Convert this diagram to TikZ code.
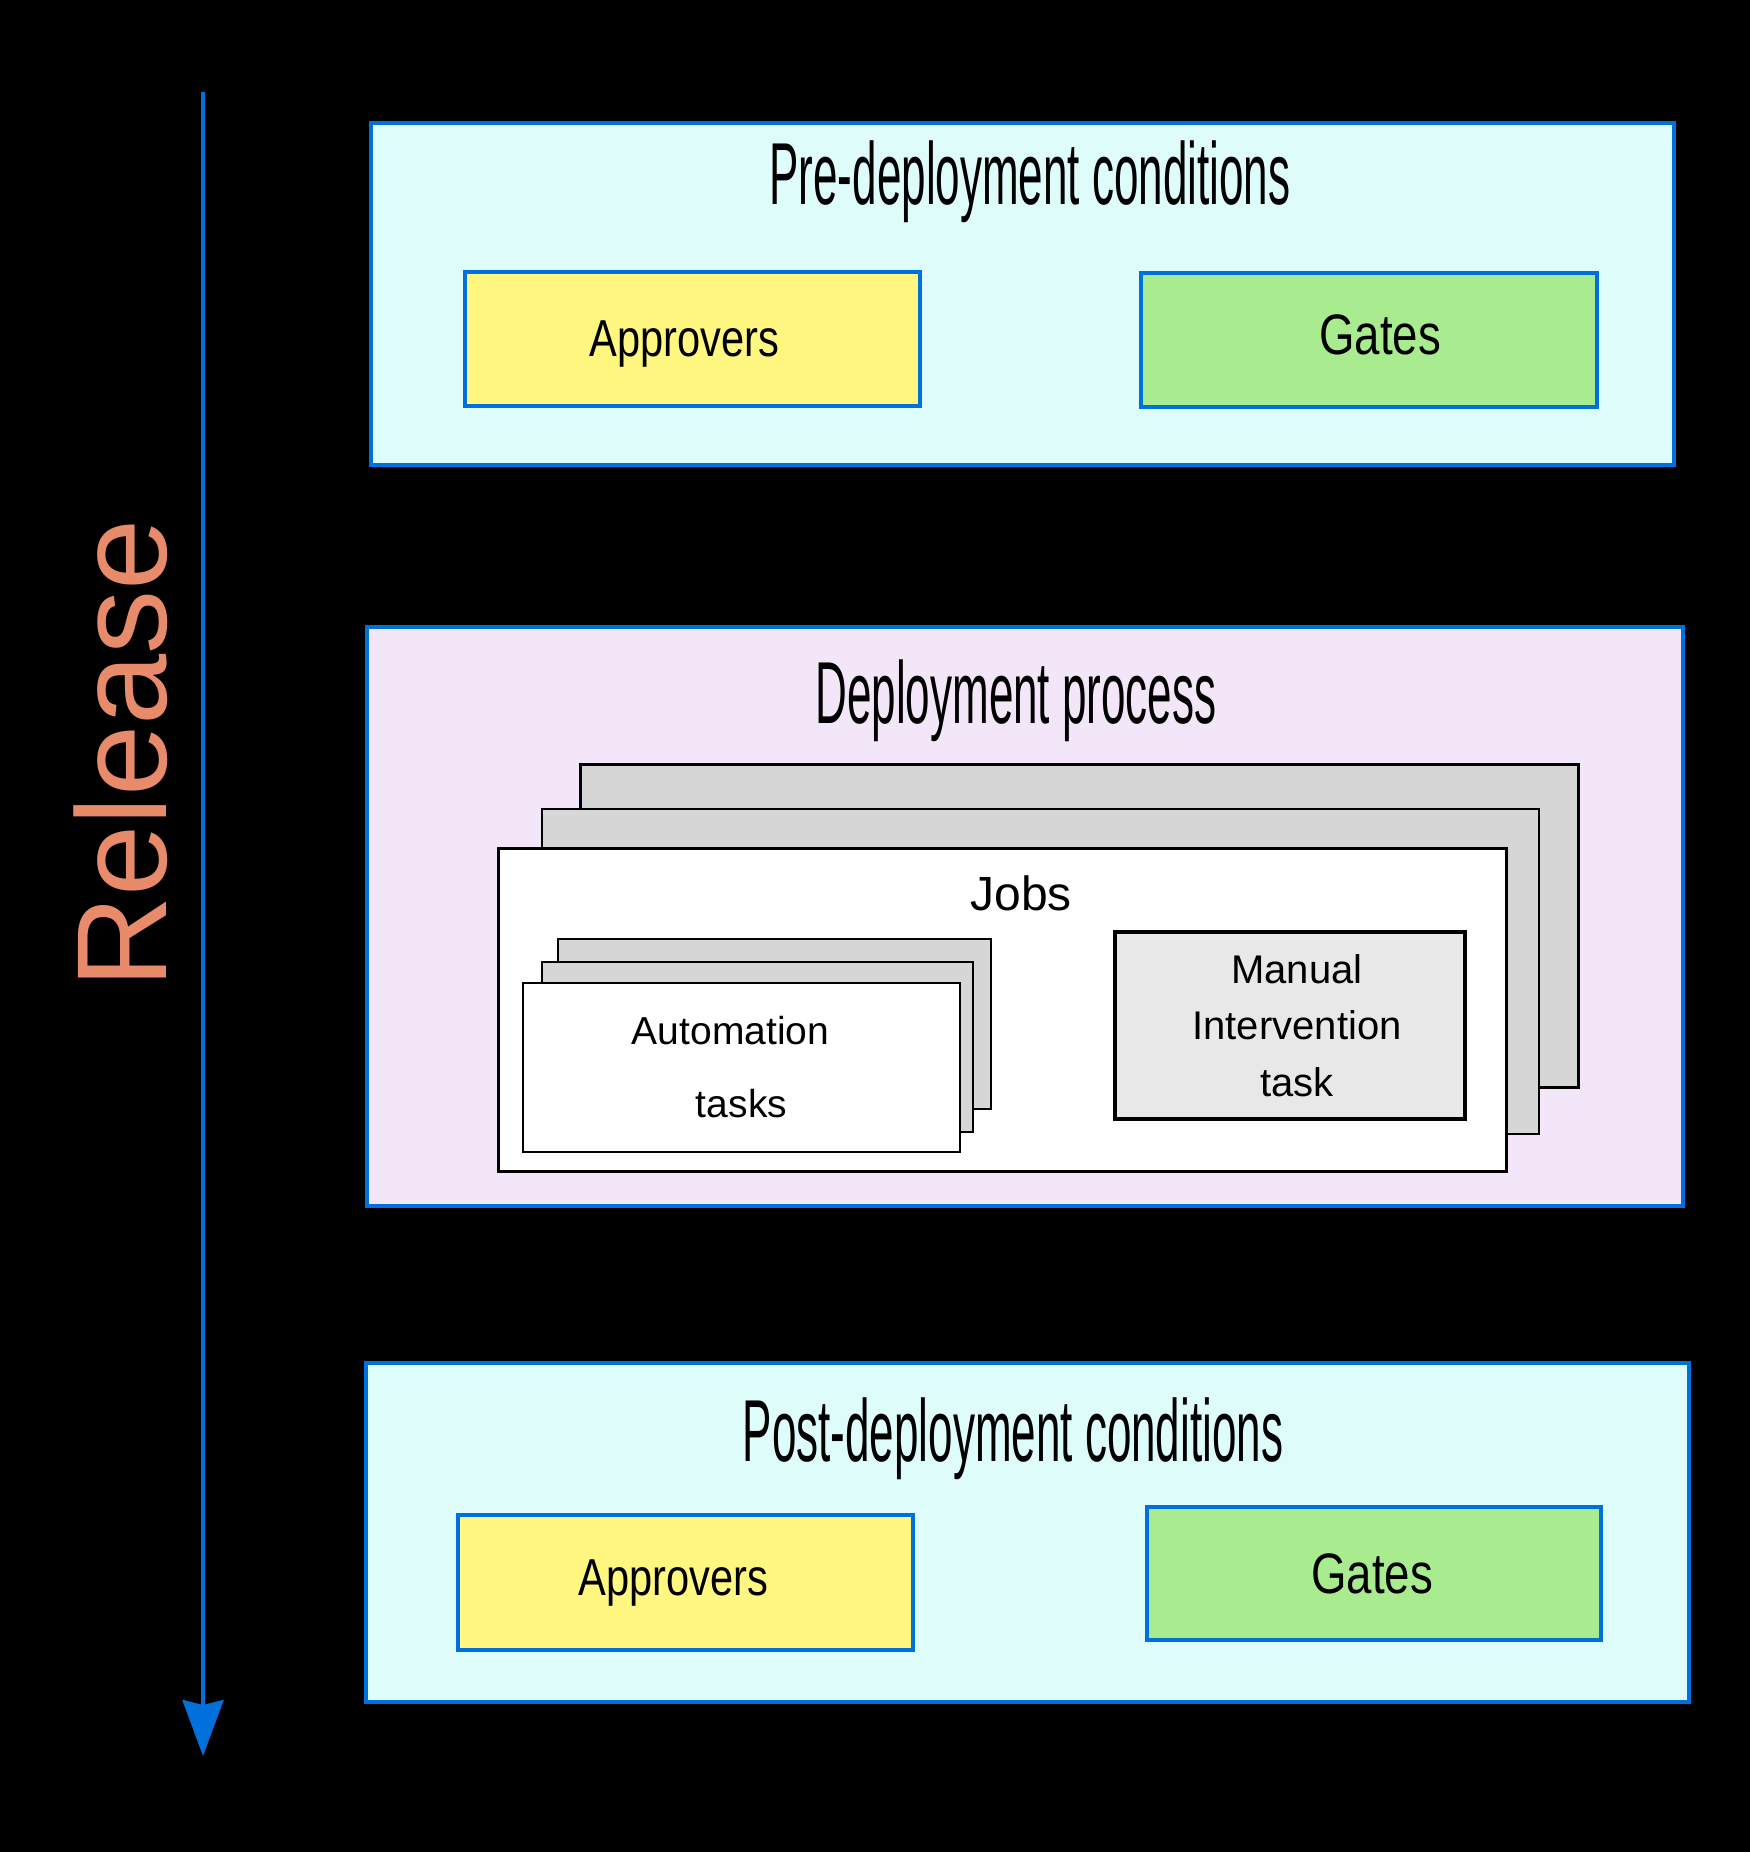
\documentclass[tikz,border=0pt]{standalone}
\usepackage{fontspec}
\setmainfont{Liberation Sans}
\newfontfamily\narrowfont[FakeStretch=0.5]{Liberation Sans}
\newfontfamily\semifont[FakeStretch=0.8]{Liberation Sans}
\usetikzlibrary{arrows.meta}
\usetikzlibrary{positioning}
\definecolor{lineblue}{RGB}{0,112,221}
\definecolor{paleCyan}{RGB}{222,252,250}
\definecolor{paleLilac}{RGB}{243,230,248}
\definecolor{approverYellow}{RGB}{255,247,128}
\definecolor{gateGreen}{RGB}{169,235,143}
\definecolor{cardGray}{RGB}{214,214,214}
\definecolor{manualGray}{RGB}{232,232,232}
\definecolor{releaseOrange}{RGB}{231,139,106}
\tikzstyle{stage} = [rectangle, draw=lineblue, line width=4pt, fill=paleCyan, inner sep=0pt]
\tikzstyle{condition} = [rectangle, draw=lineblue, line width=3.5pt, inner sep=0pt]
\tikzstyle{approverText} = [inner sep=0pt, font=\semifont\fontsize{52}{60}\selectfont]
\tikzstyle{gateText} = [inner sep=0pt, font=\semifont\fontsize{57}{60}\selectfont]
\tikzstyle{card} = [rectangle, draw=black, fill=cardGray, inner sep=0pt]
\tikzstyle{title} = [anchor=base, inner sep=0pt, font=\narrowfont\fontsize{88}{100}\selectfont]
\tikzstyle{arrow} = [line width=4pt, draw=lineblue, -{Stealth[length=56pt, width=41pt, inset=5pt]}]

\begin{document}
\begin{tikzpicture}[x=1pt, y=-1pt]
        \fill [black] (0,0) rectangle (1750,1852);

        % release axis
        \coordinate (releaseStart) at (203,92);
        \coordinate (releaseEnd) at (203,1756);
        \draw [arrow] (releaseStart) -- (releaseEnd);
        \node (release) [rotate=90, anchor=base, inner sep=0pt, text=releaseOrange, font=\fontsize{128}{134}\selectfont] at (166,754) {Release};

        % pre-deployment
        \node (pre) [stage, minimum width=1303pt, minimum height=342pt] at (1022.5,294) {};
        \node (preTitle) [title] at (1030,204) {Pre-deployment conditions};
        \node (preApprovers) [condition, fill=approverYellow, minimum width=455pt, minimum height=134pt] at (692.5,339) {};
        \node (preApproversText) [approverText] at (684.5,344) {Approvers};
        \node (preGates) [condition, fill=gateGreen, minimum width=456pt, minimum height=134pt] at (1369,340) {};
        \node (preGatesText) [gateText] at (1380,335) {Gates};

        % deployment
        \node (deploy) [stage, fill=paleLilac, minimum width=1316pt, minimum height=579pt] at (1025,916.5) {};
        \node (deployTitle) [title] at (1016,723) {Deployment process};
        \node (jobBack) [card, line width=3pt, minimum width=998pt, minimum height=323pt] at (1079,925.5) {};
        \node (jobMid) [card, line width=1.5pt, minimum width=997pt, minimum height=325pt] at (1040.5,971.5) {};
        \node (jobs) [card, fill=white, line width=3pt, minimum width=1008pt, minimum height=323pt] at (1002,1009.5) {};
        \node (jobsTitle) [anchor=base, inner sep=0pt, font=\fontsize{48}{56}\selectfont] at (1021,910) {Jobs};
        \node (autoBack) [card, line width=1.5pt, minimum width=433pt, minimum height=170pt] at (774.5,1024) {};
        \node (autoMid) [card, line width=1.5pt, minimum width=431pt, minimum height=170pt] at (757.5,1047) {};
        \node (autoTasks) [card, fill=white, line width=1.5pt, minimum width=437pt, minimum height=169pt, align=center, font=\fontsize{39}{73}\selectfont] at (741.5,1067.5) {Automation\kern22pt\\tasks};
        \node (manualTask) [card, fill=manualGray, line width=3.5pt, minimum width=350pt, minimum height=187pt] at (1290,1025.5) {};
        \node (manualText) [inner sep=0pt, align=center, font=\fontsize{40}{56.5}\selectfont] at (1297,1025.5) {Manual\\Intervention\\task};

        % post-deployment
        \node (post) [stage, minimum width=1323pt, minimum height=339pt] at (1027.5,1532.5) {};
        \node (postTitle) [title] at (1013,1461) {Post-deployment conditions};
        \node (postApprovers) [condition, fill=approverYellow, minimum width=455pt, minimum height=135pt] at (685.5,1582.5) {};
        \node (postApproversText) [approverText] at (673.5,1582.5) {Approvers};
        \node (postGates) [condition, fill=gateGreen, minimum width=454pt, minimum height=133pt] at (1374,1573.5) {};
        \node (postGatesText) [gateText] at (1372,1573.5) {Gates};
\end{tikzpicture}
\end{document}
